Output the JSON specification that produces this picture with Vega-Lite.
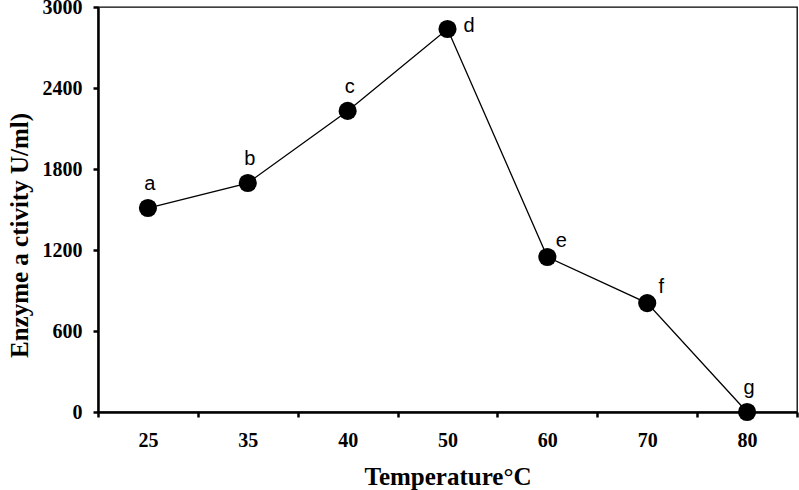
{
  "$schema": "https://vega.github.io/schema/vega-lite/v6.json",
  "width": 699,
  "height": 405,
  "autosize": {"type": "none"},
  "padding": {"left": 98, "top": 7, "right": 2, "bottom": 78},
  "background": "white",
  "config": {
    "view": {"stroke": "black", "strokeWidth": 1.3},
    "axis": {
      "domainColor": "black", "domainWidth": 2.5,
      "tickColor": "black", "tickWidth": 2.5, "tickSize": 5,
      "grid": false,
      "labelFont": "Liberation Serif", "labelFontWeight": "bold", "labelFontSize": 20, "labelColor": "black",
      "titleFont": "Liberation Serif", "titleFontWeight": "bold", "titleFontSize": 25, "titleColor": "black"
    }
  },
  "data": {
    "values": [
      {"temp": "25", "activity": 1511, "label": "a"},
      {"temp": "35", "activity": 1696, "label": "b"},
      {"temp": "40", "activity": 2230, "label": "c"},
      {"temp": "50", "activity": 2837, "label": "d"},
      {"temp": "60", "activity": 1148, "label": "e"},
      {"temp": "70", "activity": 807, "label": "f"},
      {"temp": "80", "activity": 0, "label": "g"}
    ]
  },
  "encoding": {
    "x": {
      "field": "temp", "type": "ordinal", "sort": null,
      "scale": {"paddingInner": 0, "paddingOuter": 0},
      "axis": {"title": "Temperature°C", "labelAngle": 0, "tickBand": "extent", "labelPadding": 13, "titlePadding": 14}
    },
    "y": {
      "field": "activity", "type": "quantitative",
      "scale": {"domain": [0, 3000], "nice": false},
      "axis": {"title": "Enzyme a ctivity U/ml)", "format": "d", "values": [0, 600, 1200, 1800, 2400, 3000], "labelPadding": 11, "titleX": -79, "titleY": 228, "titleAlign": "center", "titleBaseline": "middle"}
    }
  },
  "layer": [
    {"mark": {"type": "line", "color": "black", "strokeWidth": 1.3}},
    {"mark": {"type": "point", "filled": true, "color": "black", "opacity": 1, "size": 330}},
    {
      "transform": [{"filter": "indexof(['a','b','c','g'], datum.label) >= 0"}],
      "mark": {"type": "text", "font": "Liberation Sans", "fontSize": 20, "color": "black", "dy": -24, "dx": 2},
      "encoding": {"text": {"field": "label"}}
    },
    {
      "transform": [{"filter": "datum.label == 'd'"}],
      "mark": {"type": "text", "font": "Liberation Sans", "fontSize": 20, "color": "black", "align": "left", "dx": 16, "dy": -3},
      "encoding": {"text": {"field": "label"}}
    },
    {
      "transform": [{"filter": "datum.label == 'e' || datum.label == 'f'"}],
      "mark": {"type": "text", "font": "Liberation Sans", "fontSize": 20, "color": "black", "dx": 14, "dy": -16},
      "encoding": {"text": {"field": "label"}}
    }
  ]
}
